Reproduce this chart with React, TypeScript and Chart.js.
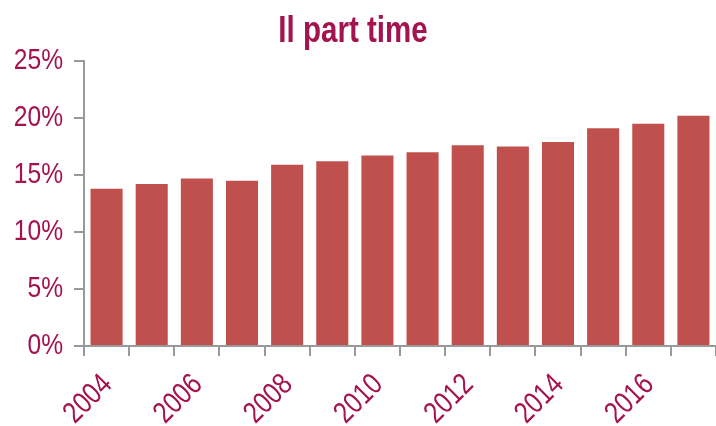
import React, { useEffect, useRef } from "react";
import { Chart, registerables } from "chart.js";

Chart.register(...registerables);

const years = ["2004","2005","2006","2007","2008","2009","2010","2011","2012","2013","2014","2015","2016","2017"];
const partTime = [13.8, 14.2, 14.7, 14.5, 15.9, 16.2, 16.7, 17.0, 17.6, 17.5, 17.9, 19.1, 19.5, 20.2];
const titleText = "Il part time";

const TEXT = "#A3134F";
const AXIS = "#999999";
const BAR = "#C0504D";
const FONT = "'Liberation Sans', Arial, sans-serif";
const NARROW = 0.82; // emulate a narrow sans face

const narrowText = {
  id: "narrowText",
  afterDraw(chart: any) {
    const ctx = chart.ctx as CanvasRenderingContext2D;
    const xs = chart.scales.x;
    const ys = chart.scales.y;
    ctx.save();
    ctx.fillStyle = TEXT;
    // title
    ctx.font = `bold 36px ${FONT}`;
    ctx.textAlign = "center";
    ctx.textBaseline = "alphabetic";
    ctx.save();
    ctx.translate(chart.width / 2 - 5, 42);
    ctx.scale(NARROW, 1);
    ctx.fillText(titleText, 0, 0);
    ctx.restore();
    // y tick labels
    ctx.font = `30px ${FONT}`;
    ctx.textAlign = "right";
    ctx.textBaseline = "middle";
    ys.ticks.forEach((t: any) => {
      const y = ys.getPixelForValue(t.value);
      ctx.save();
      ctx.translate(ys.right - 21, y);
      ctx.scale(NARROW, 1);
      ctx.fillText(`${t.value}%`, 0, 0);
      ctx.restore();
    });
    // x tick labels (every other year)
    xs.ticks.forEach((t: any, i: number) => {
      if (i % 2 !== 0) return;
      const x = xs.getPixelForTick(i);
      ctx.save();
      ctx.translate(x + 1, xs.top + 34);
      ctx.rotate(-Math.PI / 4);
      ctx.scale(NARROW, 1);
      ctx.fillText(years[i], 0, 0);
      ctx.restore();
    });
    ctx.restore();
  },
};

export default function App() {
  const ref = useRef<HTMLCanvasElement | null>(null);
  useEffect(() => {
    document.body.style.margin = "0";
    const ctx = ref.current!;
    const chart = new Chart(ctx, {
      type: "bar",
      data: {
        labels: years,
        datasets: [{ data: partTime, backgroundColor: BAR, barPercentage: 0.71, categoryPercentage: 1 }],
      },
      options: {
        animation: false,
        responsive: false,
        maintainAspectRatio: false,
        layout: { padding: { left: 0, right: -3, top: 61, bottom: 0 } },
        plugins: {
          legend: { display: false },
          tooltip: { enabled: false },
          title: { display: false },
        },
        scales: {
          x: {
            grid: { display: true, drawOnChartArea: false, offset: true, color: AXIS, lineWidth: 2, tickLength: 10 },
            border: { color: AXIS, width: 2 },
            ticks: { display: false },
            afterFit: (s: any) => { s.height = 80; },
          },
          y: {
            min: 0,
            max: 25,
            grid: { display: true, drawOnChartArea: false, color: AXIS, lineWidth: 2, tickLength: 10 },
            border: { color: AXIS, width: 2 },
            ticks: { display: false, stepSize: 5 },
            afterFit: (s: any) => { s.width = 84; },
          },
        },
      },
      plugins: [narrowText],
    });
    return () => chart.destroy();
  }, []);
  return (
    <div style={{ position: "fixed", left: 0, top: 0, width: 716, height: 426 }}>
      <canvas ref={ref} width={716} height={426} style={{ width: 716, height: 426 }} />
    </div>
  );
}
